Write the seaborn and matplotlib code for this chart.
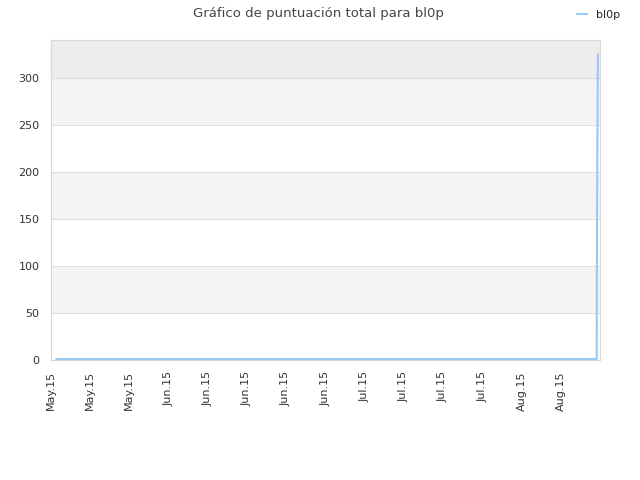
import numpy as np
import pandas as pd
import seaborn as sns
import matplotlib
matplotlib.use("Agg")
import matplotlib.pyplot as plt
import matplotlib.dates as mdates

sns.set_theme(style="white")
plt.rcParams['font.family'] = ['DejaVu Sans']

# total score for bl0p: flat near zero, then a jump on the last day
dates = list(pd.date_range("2015-05-12", "2015-08-16", freq="D")) + [
    pd.Timestamp("2015-08-16 10:00"),
    pd.Timestamp("2015-08-16 11:00"),
    pd.Timestamp("2015-08-16 15:00"),
]
scores = [1] * 97 + [1, 142, 325]

tick_dates = pd.date_range("2015-05-11", "2015-08-10", freq="7D")
band_edges = [0, 50, 100, 150, 200, 250, 300, 340]
band_colors = ["#ffffff", "#f3f3f3", "#ffffff", "#f3f3f3", "#ffffff", "#f3f3f3", "#ededed"]

df = pd.DataFrame({"fecha": dates, "puntos": scores})

fig = plt.figure(figsize=(6.4, 4.8), dpi=100)
ax = fig.add_axes([0.079, 0.25, 0.8585, 0.6667])

for lo, hi, c in zip(band_edges[:-1], band_edges[1:], band_colors):
    ax.axhspan(lo, hi, color=c, zorder=0, lw=0)
for y in band_edges[1:-1]:
    ax.axhline(y, color="#e0e0e0", lw=0.8, zorder=1)

sns.lineplot(data=df, x="fecha", y="puntos", ax=ax, color="#99c8f3",
             lw=1.5, label="bl0p", legend=False, zorder=3)

ax.set_xlim(pd.Timestamp("2015-05-11"), pd.Timestamp("2015-08-17"))
ax.set_ylim(0, 340)
ax.set_yticks([0, 50, 100, 150, 200, 250, 300])
ax.set_xticks(tick_dates)
ax.xaxis.set_major_formatter(mdates.DateFormatter("%b.%y"))
plt.setp(ax.get_xticklabels(), rotation=90)
ax.tick_params(axis="both", labelsize=8, colors="#333333", length=0)
ax.tick_params(axis="x", pad=8)
ax.tick_params(axis="y", pad=8)
ax.set_xlabel("")
ax.set_ylabel("")
for s in ax.spines.values():
    s.set_color("#d8d8d8")
    s.set_linewidth(0.8)

fig.suptitle("Gráfico de puntuación total para bl0p", x=0.497, y=0.985,
             fontsize=9.5, color="#444444")
h, l = ax.get_legend_handles_labels()
fig.legend(h, l, loc="upper right", bbox_to_anchor=(0.985, 1.0), frameon=False,
           fontsize=8, handlelength=0.9, handletextpad=0.8)

fig.savefig("out.png", dpi=100)
